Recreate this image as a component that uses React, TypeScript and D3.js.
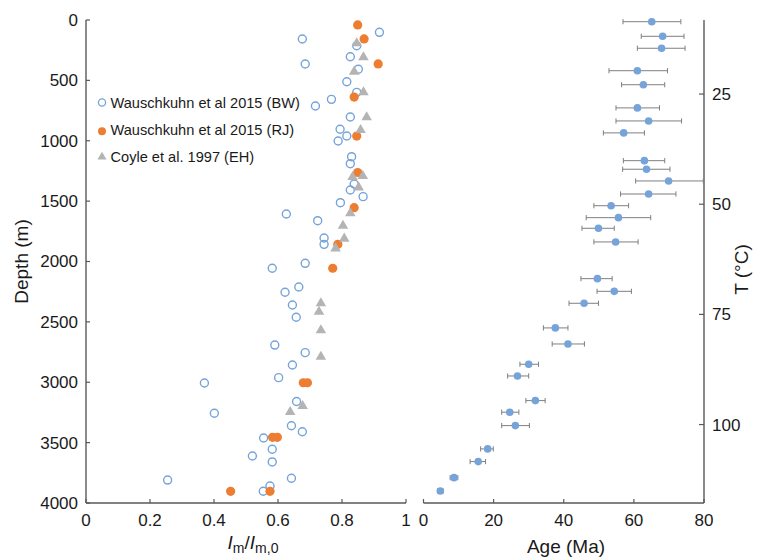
import React from "react";
import * as d3 from "d3";

const depthTicks = [0, 500, 1000, 1500, 2000, 2500, 3000, 3500, 4000];
const imTicks = [0, 0.2, 0.4, 0.6, 0.8, 1];
const ageTicks = [0, 20, 40, 60, 80];
const tempTicks = [25, 50, 75, 100];

const bwDepth = [102, 157, 364, 213, 304, 408, 511, 599, 657, 712, 803, 905, 961, 1002, 1132, 1190, 1358, 1408, 1463, 1513, 1607, 1662, 1805, 1858, 2015, 2056, 2211, 2255, 2360, 2462, 2692, 2755, 2857, 2962, 3006, 3257, 3159, 3360, 3410, 3462, 3555, 3611, 3660, 3795, 3859, 3903, 3810];
const bwVal = [0.917, 0.676, 0.685, 0.846, 0.826, 0.851, 0.815, 0.846, 0.767, 0.717, 0.826, 0.794, 0.815, 0.788, 0.83, 0.826, 0.838, 0.826, 0.866, 0.795, 0.626, 0.724, 0.744, 0.744, 0.685, 0.582, 0.665, 0.622, 0.645, 0.657, 0.59, 0.685, 0.645, 0.602, 0.37, 0.401, 0.658, 0.642, 0.676, 0.555, 0.582, 0.52, 0.582, 0.642, 0.575, 0.554, 0.255];

const rjDepth = [41, 157, 364, 638, 961, 1263, 1554, 1858, 2056, 3004, 3004, 3456, 3456, 3903, 3903];
const rjVal = [0.849, 0.869, 0.913, 0.838, 0.846, 0.849, 0.838, 0.787, 0.771, 0.679, 0.692, 0.583, 0.598, 0.575, 0.452];

const ehDepth = [193, 309, 428, 599, 806, 911, 1300, 1292, 1386, 1601, 1704, 1811, 1891, 2346, 2416, 2570, 2789, 3197, 3246];
const ehVal = [0.846, 0.867, 0.838, 0.867, 0.877, 0.858, 0.833, 0.865, 0.852, 0.826, 0.803, 0.807, 0.78, 0.734, 0.728, 0.734, 0.734, 0.677, 0.638];

const ageDepth = [14, 135, 234, 420, 536, 728, 836, 935, 1165, 1236, 1333, 1441, 1538, 1637, 1725, 1838, 2142, 2247, 2346, 2550, 2683, 2851, 2948, 3152, 3248, 3359, 3552, 3657, 3790, 3900];
const age = [65.1, 68.2, 67.9, 61.0, 62.7, 61.0, 64.2, 57.1, 63.0, 63.6, 69.9, 64.2, 53.5, 55.6, 49.9, 54.8, 49.6, 54.4, 45.8, 37.6, 41.2, 30.0, 26.8, 31.9, 24.6, 26.2, 18.3, 15.6, 8.7, 4.8];
const ageLo = [56.9, 62.1, 61.0, 52.9, 56.5, 54.9, 54.9, 51.3, 57.0, 56.8, 60.5, 56.2, 48.6, 46.4, 45.2, 48.6, 44.9, 49.5, 41.5, 34.2, 36.7, 27.5, 24.0, 29.2, 22.3, 22.3, 16.3, 13.3, 7.6, 4.0];
const ageHi = [73.4, 74.3, 74.6, 69.6, 68.8, 67.3, 73.6, 63.0, 68.8, 70.3, 79.8, 72.0, 58.5, 64.8, 54.4, 61.2, 53.8, 59.3, 49.9, 41.2, 45.9, 32.8, 30.0, 34.7, 27.2, 30.2, 19.9, 17.7, 9.8, 5.6];

const legendLabels = ["Wauschkuhn et al 2015 (BW)", "Wauschkuhn et al 2015 (RJ)", "Coyle et al. 1997 (EH)"];

const BLUE = "#75A3DA";
const ORANGE = "#ED7D31";
const GRAY = "#B4B4B4";
const AXIS = "#595959";
const TEXT = "#1a1a1a";
const FONT = "'Liberation Sans', Arial, sans-serif";

export default function App() {
  const y = d3.scaleLinear().domain([0, 4000]).range([20, 503]);
  const xL = d3.scaleLinear().domain([0, 1]).range([86, 406]);
  const xR = d3.scaleLinear().domain([0, 80]).range([423.5, 704]);
  const yT = d3.scaleLinear().domain([8.2, 117.8]).range([20, 503]);
  const tri = d3.symbol().type(d3.symbolTriangle).size(48)();

  const fmtIm = (v: number) => (v === 0 || v === 1 ? String(v) : v.toFixed(1));

  return (
    <svg
      width={764}
      height={558}
      style={{ position: "absolute", left: 0, top: 0, background: "#fff" }}
      fontFamily={FONT}
    >
      {/* Left panel axes */}
      <line x1={xL(0)} x2={xL(0)} y1={y(0)} y2={y(4000)} stroke={AXIS} strokeWidth={1.4} />
      <line x1={xL(0)} x2={xL(1)} y1={y(4000)} y2={y(4000)} stroke={AXIS} strokeWidth={1.4} />
      {depthTicks.map((d) => (
        <g key={"dt" + d}>
          <line x1={xL(0)} x2={xL(0) + 4} y1={y(d)} y2={y(d)} stroke={AXIS} strokeWidth={1.2} />
          <text x={78} y={y(d)} dy="0.35em" textAnchor="end" fontSize={17} fill={TEXT}>
            {d}
          </text>
        </g>
      ))}
      {imTicks.map((v) => (
        <g key={"it" + v}>
          <line x1={xL(v)} x2={xL(v)} y1={y(4000)} y2={y(4000) - 4} stroke={AXIS} strokeWidth={1.2} />
          <text x={xL(v)} y={526} textAnchor="middle" fontSize={17} fill={TEXT}>
            {fmtIm(v)}
          </text>
        </g>
      ))}
      <text
        transform={`translate(28, ${(y(0) + y(4000)) / 2}) rotate(-90)`}
        textAnchor="middle"
        fontSize={19}
        fill={TEXT}
      >
        Depth (m)
      </text>
      <text x={253} y={549} textAnchor="middle" fontSize={19} fill={TEXT}>
        <tspan fontStyle="italic">I</tspan>
        <tspan fontSize={14} dy={3.5}>m</tspan>
        <tspan dy={-3.5}>/</tspan>
        <tspan fontStyle="italic">I</tspan>
        <tspan fontSize={14} dy={3.5}>m,0</tspan>
      </text>

      {/* Left panel data */}
      {bwDepth.map((d, i) => (
        <circle key={"bw" + i} cx={xL(bwVal[i])} cy={y(d)} r={4} fill="none" stroke={BLUE} strokeWidth={1.4} />
      ))}
      {rjDepth.map((d, i) => (
        <circle key={"rj" + i} cx={xL(rjVal[i])} cy={y(d)} r={4.6} fill={ORANGE} />
      ))}
      {ehDepth.map((d, i) => (
        <path key={"eh" + i} d={tri as string} transform={`translate(${xL(ehVal[i])},${y(d)})`} fill={GRAY} />
      ))}

      {/* Legend */}
      {legendLabels.map((lab, i) => {
        const ly = 102.5 + i * 27.2;
        return (
          <g key={"lg" + i}>
            {i === 0 && <circle cx={102} cy={ly} r={3.6} fill="none" stroke={BLUE} strokeWidth={1.3} />}
            {i === 1 && <circle cx={102} cy={ly + 1.5} r={4} fill={ORANGE} />}
            {i === 2 && <path d={d3.symbol().type(d3.symbolTriangle).size(36)() as string} transform={`translate(102,${ly})`} fill={GRAY} />}
            <text x={110.5} y={ly} dy="0.35em" fontSize={14.6} fill={TEXT}>
              {lab}
            </text>
          </g>
        );
      })}

      {/* Right panel axes */}
      <line x1={xR(0)} x2={xR(80)} y1={y(4000)} y2={y(4000)} stroke={AXIS} strokeWidth={1.4} />
      <line x1={xR(80)} x2={xR(80)} y1={y(0)} y2={y(4000)} stroke={AXIS} strokeWidth={1.4} />
      {ageTicks.map((v) => (
        <g key={"at" + v}>
          <line x1={xR(v)} x2={xR(v)} y1={y(4000)} y2={y(4000) - 4} stroke={AXIS} strokeWidth={1.2} />
          <text x={xR(v)} y={526} textAnchor="middle" fontSize={17} fill={TEXT}>
            {v}
          </text>
        </g>
      ))}
      {tempTicks.map((t) => (
        <g key={"tt" + t}>
          <line x1={xR(80)} x2={xR(80) - 5} y1={yT(t)} y2={yT(t)} stroke={AXIS} strokeWidth={1.2} />
          <text x={712} y={yT(t)} dy="0.35em" textAnchor="start" fontSize={17} fill={TEXT}>
            {t}
          </text>
        </g>
      ))}
      <text x={566} y={553} textAnchor="middle" fontSize={19} fill={TEXT}>
        Age (Ma)
      </text>
      <text
        transform={`translate(748, ${(y(0) + y(4000)) / 2 + 8}) rotate(-90)`}
        textAnchor="middle"
        fontSize={19}
        fill={TEXT}
      >
        T (°C)
      </text>

      {/* Right panel data */}
      {ageDepth.map((d, i) => (
        <g key={"ag" + i}>
          <line x1={xR(ageLo[i])} x2={xR(ageHi[i])} y1={y(d)} y2={y(d)} stroke="#7F7F7F" strokeWidth={1} />
          <line x1={xR(ageLo[i])} x2={xR(ageLo[i])} y1={y(d) - 2.6} y2={y(d) + 2.6} stroke="#7F7F7F" strokeWidth={1} />
          <line x1={xR(ageHi[i])} x2={xR(ageHi[i])} y1={y(d) - 2.6} y2={y(d) + 2.6} stroke="#7F7F7F" strokeWidth={1} />
          <circle cx={xR(age[i])} cy={y(d)} r={3.8} fill={BLUE} />
        </g>
      ))}
    </svg>
  );
}
